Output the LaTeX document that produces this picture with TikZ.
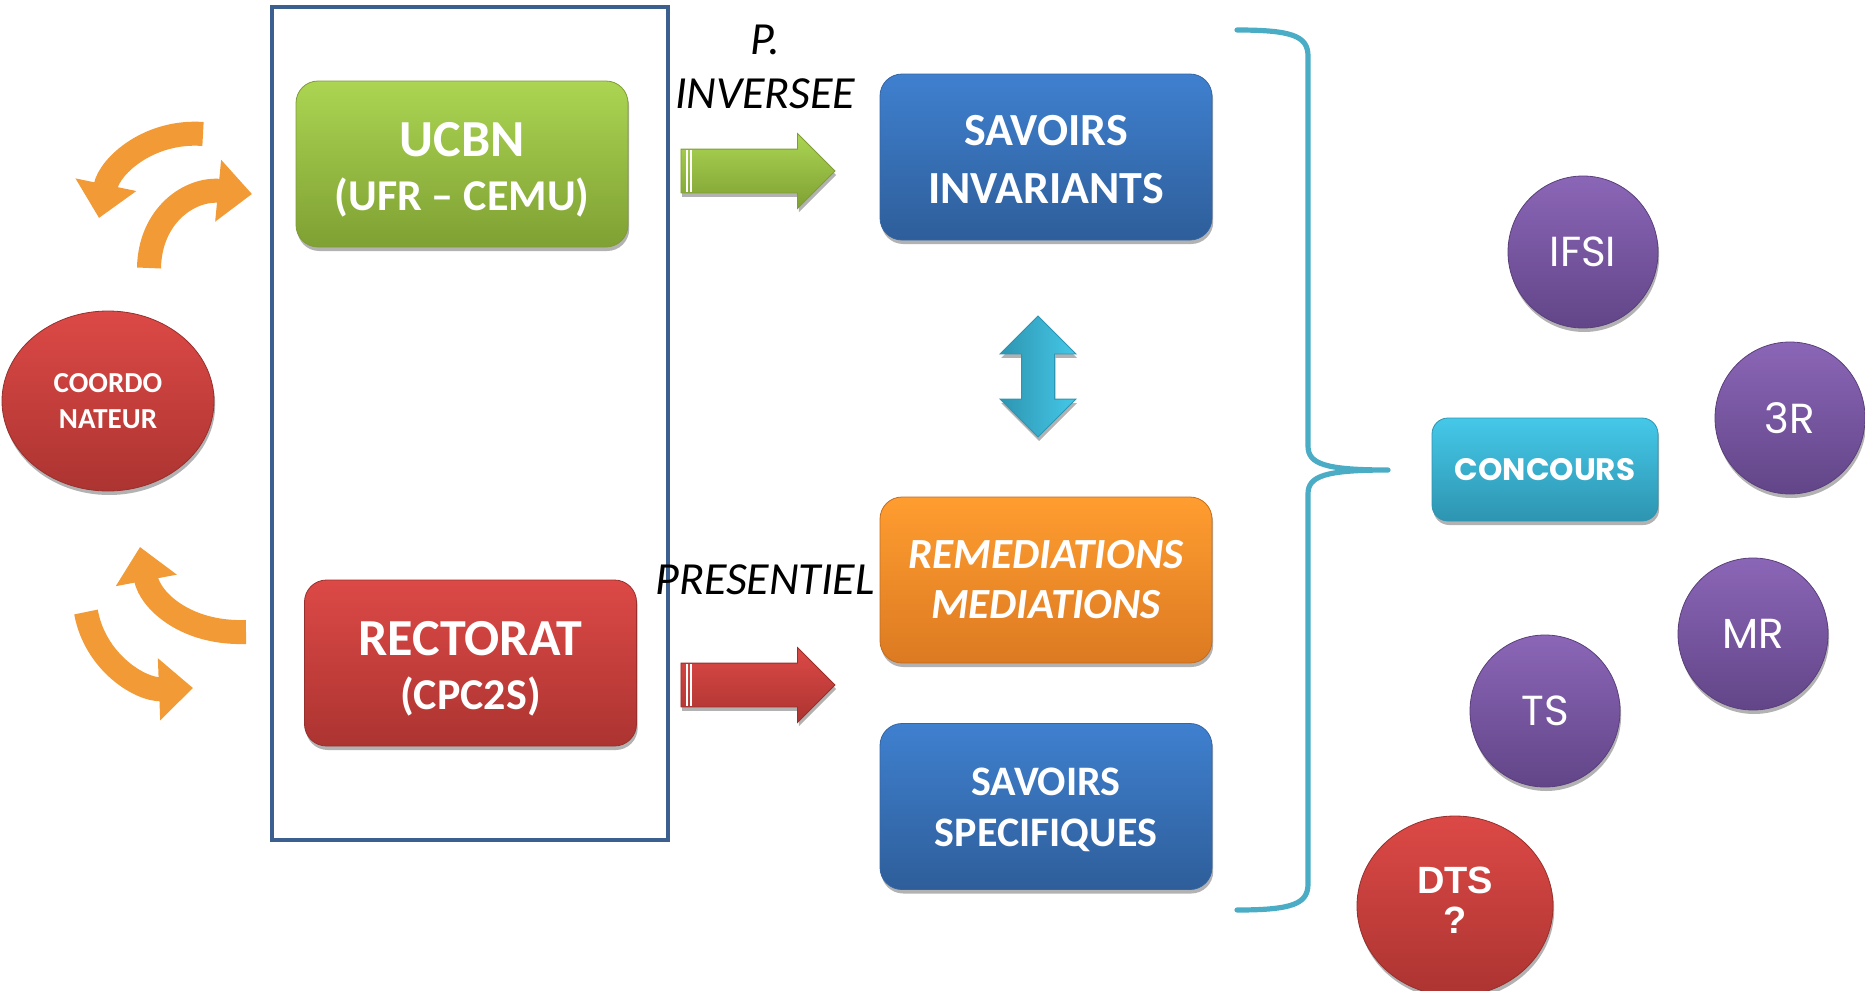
\documentclass[tikz,border=0pt]{standalone}
\usepackage{fontspec}
\setmainfont{Carlito}
\newfontfamily\popp{Poppins}
\newfontfamily\arialf{Liberation Sans}
\usetikzlibrary{shapes.geometric,shapes.arrows,arrows.meta,shadows}
\definecolor{grnT}{HTML}{ABD552}
\definecolor{grnB}{HTML}{7FA033}
\definecolor{grnD}{HTML}{7F9C38}
\definecolor{redT}{HTML}{DC4946}
\definecolor{redB}{HTML}{AC3431}
\definecolor{redD}{HTML}{97302D}
\definecolor{bluT}{HTML}{3F80CF}
\definecolor{bluB}{HTML}{2E5E9A}
\definecolor{bluD}{HTML}{3465A4}
\definecolor{orgT}{HTML}{FF9D30}
\definecolor{orgB}{HTML}{DC7A22}
\definecolor{orgD}{HTML}{C46C1E}
\definecolor{cyanT}{HTML}{45C8E8}
\definecolor{cyanB}{HTML}{2D95B1}
\definecolor{purT}{HTML}{8B66B7}
\definecolor{purB}{HTML}{624588}
\definecolor{purD}{HTML}{5A3F7C}
\definecolor{braceC}{HTML}{4BACC6}
\definecolor{frameC}{HTML}{3B5F8E}
\definecolor{oarrC}{HTML}{F29A36}
\begin{document}
\begin{tikzpicture}[x=0.5pt,y=-0.5pt,
  shd/.style={drop shadow={shadow xshift=0.6pt,shadow yshift=-2pt,opacity=0.3,fill=black}},
  box/.style={shd,rounded corners=11pt,minimum width=166pt,minimum height=83pt,align=center,text=white,inner sep=2pt},
  gbox/.style={box,top color=grnT,bottom color=grnB,draw=grnD},
  rbox/.style={box,top color=redT,bottom color=redB,draw=redD},
  bbox/.style={box,top color=bluT,bottom color=bluB,draw=bluD},
  obox/.style={box,top color=orgT,bottom color=orgB,draw=orgD},
  pcirc/.style={shd,ellipse,minimum width=75pt,minimum height=76pt,inner sep=0pt,top color=purT,bottom color=purB,draw=purD,text=white,font=\popp\fontsize{21}{24}\selectfont},
  rell/.style={shd,ellipse,inner sep=0pt,top color=redT,bottom color=redB,draw=redD,text=white,align=center},
  oarr/.style={line width=12pt,draw=oarrC,-{Triangle[length=17pt,width=30pt]}},
  lab/.style={font=\itshape\fontsize{23}{27}\selectfont,text=black,align=center,inner sep=0pt},
  barr/.style={single arrow,shd,minimum height=77pt,minimum width=37pt,single arrow head extend=7.75pt,inner xsep=0pt,inner ysep=10.75pt}
]
\useasboundingbox (0,0) rectangle (1865,991);
\clip (0,0) rectangle (1865,991);

% frame
\node[draw=frameC,line width=1.6pt,minimum width=198pt,minimum height=416.5pt,inner sep=0pt] (frame) at (470,423.5) {};

% left boxes
\node[gbox,font=\bfseries\fontsize{26}{27}\selectfont] (ucbn) at (462,164) {\rule{0pt}{23pt}UCBN\\{\fontsize{22}{27}\selectfont (UFR -- CEMU)}};
\node[rbox,font=\bfseries\fontsize{26}{27}\selectfont] (rect) at (470.5,663) {\rule{0pt}{23pt}RECTORAT\\{\fontsize{22}{27}\selectfont (CPC2S)}};

% coordinateur
\node[rell,minimum width=106pt,minimum height=90pt,font=\bfseries\fontsize{14.5}{18}\selectfont] (coord) at (108,401) {COORDO\\NATEUR};

% orange curved arrows
\draw[oarr] (203,134) .. controls (150,130) and (110,165) .. (99,218);
\draw[oarr] (149,268) .. controls (150,215) and (190,188) .. (252,194);
\draw[oarr] (246,632) .. controls (185,634) and (150,600) .. (140,547);
\draw[oarr] (86,612) .. controls (95,662) and (140,690) .. (193,688);

% labels
\node[lab] (pinv) at (765,67) {P.\\INVERSEE};
\node[lab] (pres) at (765,580) {PRESENTIEL};

% block arrows
\node[barr,top color=grnT,bottom color=grnB,draw=grnD] (garr) at (747,171) {};
\node[barr,top color=redT,bottom color=redB,draw=redD] (rarr) at (747,685) {};
\draw[white,line width=0.8pt] (687,150) -- (687,192);
\draw[white,line width=0.8pt] (691,150) -- (691,192);
\draw[white,line width=0.8pt] (687,664) -- (687,706);
\draw[white,line width=0.8pt] (691,664) -- (691,706);

% right boxes
\node[bbox,font=\bfseries\fontsize{23}{29}\selectfont] (sinv) at (1046,157) {\rule{0pt}{18pt}SAVOIRS\\INVARIANTS};
\node[obox,font=\bfseries\itshape\fontsize{21.5}{25}\selectfont] (remed) at (1046,580) {REMEDIATIONS\\MEDIATIONS};
\node[bbox,font=\bfseries\fontsize{21}{25.5}\selectfont] (sspec) at (1046,806.5) {\rule{0pt}{17pt}SAVOIRS\\SPECIFIQUES};

% double arrow
\node[double arrow,rotate=90,shd,minimum height=60.5pt,minimum width=37.5pt,double arrow head extend=10.75pt,inner xsep=0pt,inner ysep=8pt,left color=cyanB,right color=cyanT,draw=cyanB] (dbl) at (1038,376.5) {};

% brace
\draw[braceC,line width=2.6pt,line cap=round,line join=round]
  (1237,30) .. controls (1292,30) and (1308,36) .. (1308,56) -- (1308,446)
  .. controls (1308,464) and (1325,470) .. (1388,470)
  .. controls (1325,470) and (1308,476) .. (1308,494) -- (1308,884)
  .. controls (1308,904) and (1292,910) .. (1237,910);

% concours
\node[shd,rounded corners=8pt,minimum width=113pt,minimum height=51.5pt,top color=cyanT,bottom color=cyanB,draw=cyanB,text=white,font=\popp\bfseries\fontsize{15.5}{18}\selectfont] (conc) at (1545,469.5) {CONCOURS};

% circles
\node[pcirc] (ifsi) at (1583,252) {IFSI};
\node[pcirc] (r3) at (1790,418) {3R};
\node[pcirc] (mr) at (1753,634) {MR};
\node[pcirc] (ts) at (1545,711) {TS};
\node[rell,minimum width=98pt,minimum height=90pt,font=\arialf\bfseries\fontsize{19}{20}\selectfont] (dts) at (1455,906) {DTS\\?\rule[-6pt]{0pt}{6pt}};
\end{tikzpicture}
\end{document}
